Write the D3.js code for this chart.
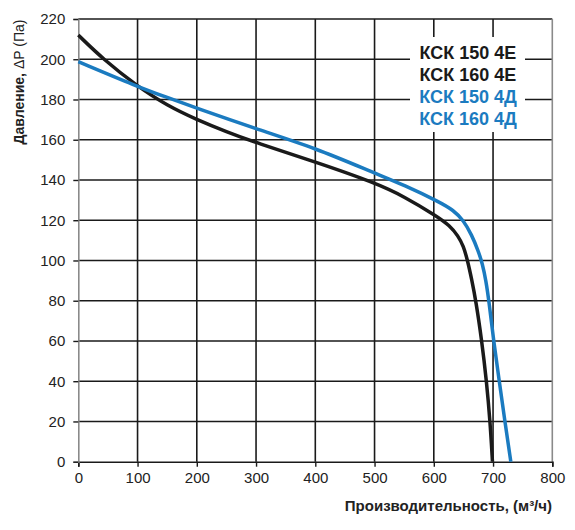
<!DOCTYPE html>
<html><head><meta charset="utf-8">
<script src="https://cdn.jsdelivr.net/npm/d3@7/dist/d3.min.js"></script>
<style>body{margin:0;background:#fff;} svg{display:block;font-family:"Liberation Sans",Arial,sans-serif;}</style>
</head><body>
<svg id="c" width="575" height="530"></svg>
<script>
const xTicks = [0,100,200,300,400,500,600,700,800];
const yTicks = [0,20,40,60,80,100,120,140,160,180,200,220];
const blackX = [0,42,100,150,200,250,300,400,500,550,605,627,641,650,657,664,671,681,689,695,699];
const blackY = [212,200,186.5,177,170,164,158.5,149,138.7,131.8,122,117.3,112.2,107.2,100,90.5,80,60,40,20,0];
const blueX = [0,100,150,200,300,400,500,550,610,633,650,664,675,682,688,693,701,710.5,720,730];
const blueY = [198.8,186.4,181,175.6,165.4,155.9,143.4,137.5,129,125,120,112.7,104.8,98.5,90,80,60,40,20,0];
const legendLabels = ["КСК 150 4Е","КСК 160 4Е","КСК 150 4Д","КСК 160 4Д"];
const legendColors = ["#1a1a1a","#1a1a1a","#1b7bc0","#1b7bc0"];
const xLabel = "Производительность, (м³/ч)";

const svg = d3.select("#c");
const x = d3.scaleLinear().domain([0,800]).range([78.3,552.3]);
const y = d3.scaleLinear().domain([0,220]).range([461.7,19]);

const grid = svg.append("g");
grid.selectAll("line.h").data(yTicks.filter(d=>d>0)).enter().append("line")
  .attr("x1",x(0)).attr("x2",x(800)).attr("y1",d=>y(d)).attr("y2",d=>y(d))
  .attr("stroke","#1a1a1a").attr("stroke-width",1.6);
grid.selectAll("line.v").data(xTicks.filter(d=>d>0&&d<800)).enter().append("line")
  .attr("x1",d=>x(d)).attr("x2",d=>x(d)).attr("y1",y(0)).attr("y2",y(220))
  .attr("stroke","#1a1a1a").attr("stroke-width",1.6);
grid.append("line").attr("x1",x(800)).attr("x2",x(800)).attr("y1",y(0)).attr("y2",y(220))
  .attr("stroke","#8a8a8a").attr("stroke-width",1.6);

const xAxis = svg.append("g").attr("transform",`translate(0,${y(0)})`)
  .call(d3.axisBottom(x).tickValues(xTicks).tickSize(5).tickPadding(6).tickFormat(d3.format("d")));
xAxis.select(".domain").attr("stroke","#1a1a1a").attr("stroke-width",1.6);
xAxis.selectAll(".tick line").attr("stroke","#1a1a1a").attr("stroke-width",1.4);
xAxis.selectAll("text").attr("font-size",15).attr("fill","#222").attr("font-family","Liberation Sans, Arial, sans-serif");

const yAxis = svg.append("g").attr("transform",`translate(${x(0)},0)`)
  .call(d3.axisLeft(y).tickValues(yTicks).tickSize(5).tickPadding(8).tickFormat(d3.format("d")));
yAxis.select(".domain").attr("stroke","#8a8a8a").attr("stroke-width",1.6);
yAxis.selectAll(".tick line").attr("stroke","#1a1a1a").attr("stroke-width",1.4);
yAxis.selectAll("text").attr("font-size",15).attr("fill","#222").attr("font-family","Liberation Sans, Arial, sans-serif");

svg.append("rect").attr("x",410).attr("y",37).attr("width",115).attr("height",95).attr("fill","#fff");
svg.append("g").selectAll("text").data(legendLabels).enter().append("text")
  .attr("x",468).attr("y",(d,i)=>59+i*22).attr("text-anchor","middle")
  .attr("font-size",18).attr("font-weight","bold").attr("fill",(d,i)=>legendColors[i])
  .text(d=>d);

const line = d3.line().x(d=>x(d[0])).y(d=>y(d[1])).curve(d3.curveBasis);
svg.append("path").datum(blackX.map((v,i)=>[v,blackY[i]]))
  .attr("d",line).attr("fill","none").attr("stroke","#1a1a1a").attr("stroke-width",3.5);
svg.append("path").datum(blueX.map((v,i)=>[v,blueY[i]]))
  .attr("d",line).attr("fill","none").attr("stroke","#1b7bc0").attr("stroke-width",3.5);

svg.append("text").attr("x",552).attr("y",511).attr("text-anchor","end")
  .attr("font-size",15).attr("font-weight","bold").attr("fill","#222").text(xLabel);
const yl = svg.append("text").attr("transform","translate(24,82) rotate(-90)")
  .attr("text-anchor","middle").attr("font-size",14).attr("fill","#222");
yl.append("tspan").attr("font-weight","bold").text("Давление, ");
yl.append("tspan").text("ΔP (Па)");
</script>
</body></html>
